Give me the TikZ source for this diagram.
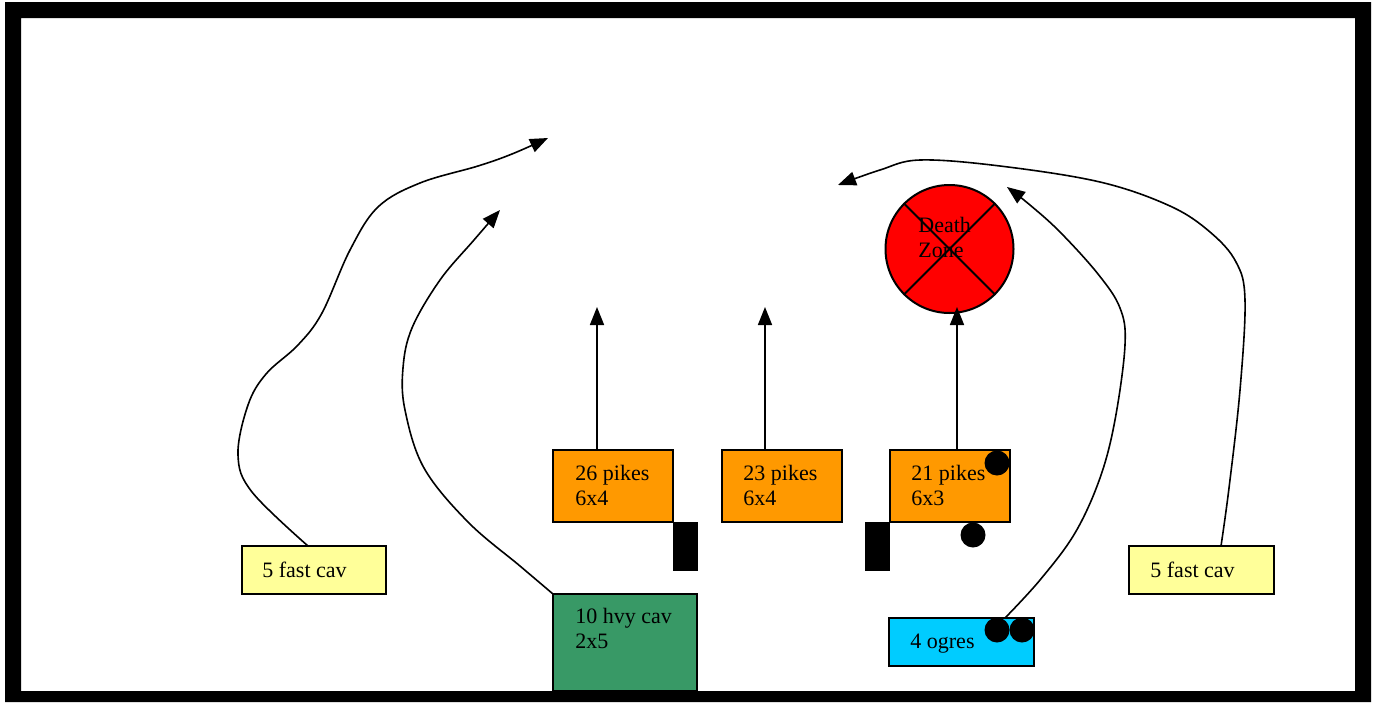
\documentclass[tikz,border=0pt]{standalone}
\usepackage{fontspec}
\setmainfont{Liberation Serif}
\usetikzlibrary{arrows.meta,calc}
\definecolor{pikeor}{HTML}{FF9900}
\definecolor{hvygreen}{HTML}{389966}
\definecolor{ogrecyan}{HTML}{00CCFF}
\definecolor{cavyellow}{HTML}{FFFF99}
\definecolor{dzred}{HTML}{FF0000}
\tikzset{
  unitbox/.style={draw=black, line width=1pt, inner sep=0pt, outer sep=0pt},
  blk/.style={fill=black, draw=none, inner sep=0pt, outer sep=0pt, minimum width=12.5pt, minimum height=24.5pt},
  dot/.style={circle, fill=black, inner sep=0pt, outer sep=0pt, minimum size=12.5pt},
  lbl/.style={anchor=base west, align=left, inner sep=0pt, font=\fontsize{11}{12.5}\selectfont},
  mv/.style={line width=0.8pt, -{Triangle[length=9pt,width=7pt]}},
}
\begin{document}
\begin{tikzpicture}[x=0.5pt,y=-0.5pt]
\useasboundingbox (0,0) rectangle (1377,702);
\fill[white] (0,0) rectangle (1377,702);
% units
\node[unitbox, fill=pikeor, minimum width=60pt, minimum height=36pt] (p26) at (613,486) {};
\node[unitbox, fill=pikeor, minimum width=60pt, minimum height=36pt] (p23) at (782,486) {};
\node[unitbox, fill=pikeor, minimum width=60pt, minimum height=36pt] (p21) at (950,486) {};
\node[unitbox, fill=hvygreen, minimum width=72pt, minimum height=48.5pt] (hvy) at (625,642.5) {};
\node[unitbox, fill=ogrecyan, minimum width=72.5pt, minimum height=24pt] (ogr) at (961.5,642) {};
\node[unitbox, fill=cavyellow, minimum width=72pt, minimum height=24pt] (fcl) at (314,570) {};
\node[unitbox, fill=cavyellow, minimum width=72.5pt, minimum height=24pt] (fcr) at (1201.5,570) {};
% labels (base anchor = last line)
\node[lbl] (t26) at ($(p26.north west)+(22,55)$) {26 pikes\\6x4};
\node[lbl] (t23) at ($(p23.north west)+(21,55)$) {23 pikes\\6x4};
\node[lbl] (t21) at ($(p21.north west)+(21,55)$) {21 pikes\\6x3};
\node[lbl] (thv) at ($(hvy.north west)+(22,54)$) {10 hvy cav\\2x5};
\node[lbl] (tog) at ($(ogr.north west)+(21,30)$) {4 ogres};
\node[lbl] (tfl) at ($(fcl.north west)+(20,31)$) {5 fast cav};
\node[lbl] (tfr) at ($(fcr.north west)+(21,31)$) {5 fast cav};
% black markers
\node[blk] (b1) at (685.5,546.5) {};
\node[blk] (b2) at (877.5,546) {};
\node[dot] (d1) at (997,463) {};
\node[dot] (d2) at (973,535) {};
\node[dot] (d3) at (997,630) {};
\node[dot] (d4) at (1022,630) {};
% death zone
\node[circle, draw=black, line width=1pt, fill=dzred, minimum size=64pt, inner sep=0pt] (dz) at (949.5,249) {};
\draw[line width=1pt] (dz.north west) -- (dz.south east);
\draw[line width=1pt] (dz.north east) -- (dz.south west);
\node[lbl] (tdz) at (918,257) {Death\\Zone};
% arrow targets
\coordinate (a26) at (597,307);
\coordinate (a23) at (765,307);
\coordinate (a21) at (957,307);
\coordinate (afl) at (548,138);
\coordinate (ahv) at (500,210);
\coordinate (aog) at (1007,187);
\coordinate (afr) at (838,185);
% straight moves
\draw[mv] (p26.north -| a26) -- (a26);
\draw[mv] (p23.north -| a23) -- (a23);
\draw[mv] (p21.north -| a21) -- (a21);
% curved moves
\draw[mv] plot[smooth, tension=0.6] coordinates {($(fcl.north)+(-6,0)$) (252,492) (238,455) (248,405) (266,374) (298,345) (322,313) (350,250) (378,207) (420,183) (478,166) (512,154) (afl)};
\draw[mv] plot[smooth, tension=0.6] coordinates {(hvy.north west) (520,566) (468,522) (424,468) (405,410) (403,368) (412,328) (440,280) (474,240) (ahv)};
\draw[mv] plot[smooth, tension=0.6] coordinates {($(ogr.north east)+(-29,0)$) (1040,580) (1075,533) (1100,478) (1115,420) (1125,345) (1120,308) (1098,274) (1060,232) (1030,205) (aog)};
\draw[mv] plot[smooth, tension=0.6] coordinates {($(fcr.north)+(19.5,0)$) (1229,488) (1240,390) (1245,300) (1236,262) (1210,232) (1170,206) (1100,182) (1000,166) (920,160) (880,170) (afr)};
% frame
\fill[black, even odd rule] (5,2) rectangle (1371,702) (21,18) rectangle (1355,691);
\end{tikzpicture}
\end{document}
